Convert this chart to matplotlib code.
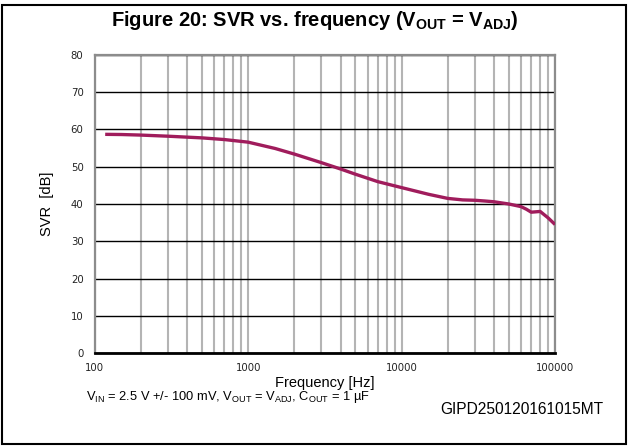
import numpy as np
import matplotlib
matplotlib.use("Agg")
import matplotlib.pyplot as plt
from matplotlib.patches import Rectangle
from matplotlib.ticker import FixedLocator, NullFormatter

plt.rcParams['mathtext.fontset'] = 'custom'
plt.rcParams['mathtext.rm'] = 'Liberation Sans'
plt.rcParams['mathtext.bf'] = 'Liberation Sans:bold'

# data
freq = [117, 150, 200, 300, 500, 700, 1000, 1500, 2000, 3000, 4000, 5000, 7000,
        10000, 15000, 20000, 25000, 30000, 35000, 40000, 50000, 60000, 65000,
        70000, 80000, 90000, 100000]
svr = [58.7, 58.65, 58.5, 58.2, 57.75, 57.3, 56.6, 54.9, 53.4, 51.1, 49.4, 48.0, 46.0,
       44.4, 42.6, 41.5, 41.1, 41.0, 40.8, 40.6, 40.0, 39.3, 38.6,
       37.8, 38.0, 36.3, 34.5]

yticks = [0, 10, 20, 30, 40, 50, 60, 70, 80]
xticks = [100, 1000, 10000, 100000]
xtick_labels = ['100', '1000', '10000', '100000']

fig = plt.figure(figsize=(6.29, 4.46), dpi=100)
ax = fig.add_axes([0.1506, 0.2085, 0.8824 - 0.1506, 0.8767 - 0.2085])

ax.set_xscale('log')
ax.set_xlim(100, 100000)
ax.set_ylim(0, 80)

minor = [m * 10**e for e in (2, 3, 4) for m in range(2, 10)]
ax.xaxis.set_minor_locator(FixedLocator(minor))
ax.xaxis.set_minor_formatter(NullFormatter())
ax.set_xticks(xticks)
ax.set_xticklabels(xtick_labels)
ax.set_yticks(yticks)

ax.grid(True, which='both', axis='x', color='#b4b4b4', lw=1.5)
ax.grid(True, which='major', axis='y', color='black', lw=1.0)
ax.set_axisbelow(True)

ax.plot(freq, svr, color='#a01c5c', lw=2.4, solid_capstyle='butt', zorder=3)

for s in ('left', 'top', 'right'):
    ax.spines[s].set_color('#8c8c8c')
    ax.spines[s].set_linewidth(1.6)
ax.spines['bottom'].set_color('black')
ax.spines['bottom'].set_linewidth(2.0)

ax.tick_params(which='both', length=0, labelsize=7.3, colors='#222222')
ax.tick_params(axis='x', pad=7)
ax.tick_params(axis='y', pad=8)
for lab in ax.get_xticklabels() + ax.get_yticklabels():
    lab.set_fontfamily('DejaVu Sans')

ax.set_xlabel('Frequency [Hz]', fontsize=10.5, family='Liberation Sans', labelpad=2)
ax.set_ylabel('SVR  [dB]', fontsize=10.5, family='Liberation Sans', labelpad=12)

fig.text(0.5, 0.955, r'Figure 20: SVR vs. frequency (V$_{\mathbf{OUT}}$ = V$_{\mathbf{ADJ}}$)',
         ha='center', va='center', fontsize=14.5, fontweight='bold', family='Liberation Sans')
fig.text(0.137, 0.11, r'V$_{\mathrm{IN}}$ = 2.5 V +/- 100 mV, V$_{\mathrm{OUT}}$ = V$_{\mathrm{ADJ}}$, C$_{\mathrm{OUT}}$ = 1 µF',
         ha='left', va='center', fontsize=9.3, family='Liberation Sans')
fig.text(0.96, 0.081, 'GIPD250120161015MT', ha='right', va='center',
         fontsize=11.2, family='Liberation Sans')

fig.patches.append(Rectangle((1.5 / 629, 2 / 446), 624.5 / 629, 439.5 / 446,
                             transform=fig.transFigure, fill=False,
                             edgecolor='black', lw=1.5))

fig.savefig('out.png', dpi=100)
